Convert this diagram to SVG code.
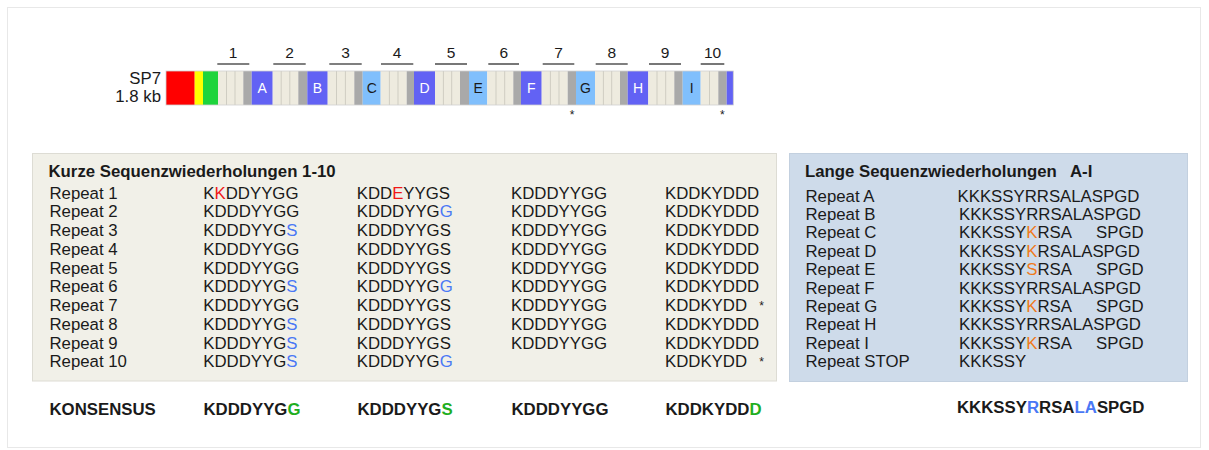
<svg xmlns="http://www.w3.org/2000/svg" width="1209" height="450" viewBox="0 0 1209 450">
<style>
text{font-family:"Liberation Sans",Arial,sans-serif;fill:#1a1a1a}
.t{font-size:16.8px}
.b{font-size:16.8px;font-weight:bold}
.num{font-size:15.5px;text-anchor:middle}
.blk{font-size:14px;text-anchor:middle}
.w{fill:#ffffff}
.cr{fill:#eeebdf}
.gr{fill:#a9a9a9}
.dk{fill:#6262f4}
.lt{fill:#80bffc}
.dv{stroke:#cfcdc2;stroke-width:1}
.ov{stroke:#555;stroke-width:1.6}
.star{font-size:12px;text-anchor:middle}
.red{fill:#f01818}
.blu{fill:#4a78f5}
.org{fill:#f07a1a}
.grn{fill:#1fae1f}
</style>
<rect x="7.5" y="7.5" width="1193" height="440" fill="#ffffff" stroke="#e8e8e8"/>

<g id="gene">
<text class="t" x="161" y="83.5" text-anchor="end">SP7</text>
<text class="t" x="161" y="101.5" text-anchor="end">1.8 kb</text>
<rect x="166" y="71" width="28.7" height="34" fill="#ff0000"/>
<rect x="194.7" y="71" width="8.3" height="34" fill="#ffff00"/>
<rect x="203" y="71" width="15" height="34" fill="#1ed43c"/>
<rect class="cr" x="218" y="71" width="25.3" height="34"/><rect class="gr" x="243.3" y="71" width="8.4" height="34"/><rect class="dk" x="251.7" y="71" width="21" height="34"/>
<rect class="cr" x="272.7" y="71" width="25.6" height="34"/><rect class="gr" x="298.3" y="71" width="9" height="34"/><rect class="dk" x="307.3" y="71" width="20.4" height="34"/>
<rect class="cr" x="327.7" y="71" width="26.6" height="34"/><rect class="gr" x="354.3" y="71" width="8.4" height="34"/><rect class="lt" x="362.7" y="71" width="18" height="34"/>
<rect class="cr" x="380.7" y="71" width="26" height="34"/><rect class="gr" x="406.7" y="71" width="7.3" height="34"/><rect class="dk" x="414" y="71" width="21" height="34"/>
<rect class="cr" x="435" y="71" width="25" height="34"/><rect class="gr" x="460" y="71" width="9" height="34"/><rect class="lt" x="469" y="71" width="18.3" height="34"/>
<rect class="cr" x="487.3" y="71" width="26" height="34"/><rect class="gr" x="513.3" y="71" width="7.7" height="34"/><rect class="dk" x="521" y="71" width="20.7" height="34"/>
<rect class="cr" x="541.7" y="71" width="26" height="34"/><rect class="gr" x="567.7" y="71" width="8.3" height="34"/><rect class="lt" x="576" y="71" width="19" height="34"/>
<rect class="cr" x="595" y="71" width="25" height="34"/><rect class="gr" x="620" y="71" width="7.7" height="34"/><rect class="dk" x="627.7" y="71" width="20.6" height="34"/>
<rect class="cr" x="648.3" y="71" width="26" height="34"/><rect class="gr" x="674.3" y="71" width="8.4" height="34"/><rect class="lt" x="682.7" y="71" width="18" height="34"/>
<rect class="cr" x="700.7" y="71" width="17.6" height="34"/><rect class="gr" x="718.3" y="71" width="8.4" height="34"/><rect class="dk" x="726.7" y="71" width="6.6" height="34"/>
<g class="dv">
<line x1="226.5" y1="71" x2="226.5" y2="105"/><line x1="235" y1="71" x2="235" y2="105"/>
<line x1="281.2" y1="71" x2="281.2" y2="105"/><line x1="289.8" y1="71" x2="289.8" y2="105"/>
<line x1="336.5" y1="71" x2="336.5" y2="105"/><line x1="345.4" y1="71" x2="345.4" y2="105"/>
<line x1="389.4" y1="71" x2="389.4" y2="105"/><line x1="398" y1="71" x2="398" y2="105"/>
<line x1="443.4" y1="71" x2="443.4" y2="105"/><line x1="451.7" y1="71" x2="451.7" y2="105"/>
<line x1="496" y1="71" x2="496" y2="105"/><line x1="504.7" y1="71" x2="504.7" y2="105"/>
<line x1="550.4" y1="71" x2="550.4" y2="105"/><line x1="559" y1="71" x2="559" y2="105"/>
<line x1="603.4" y1="71" x2="603.4" y2="105"/><line x1="611.7" y1="71" x2="611.7" y2="105"/>
<line x1="657" y1="71" x2="657" y2="105"/><line x1="665.7" y1="71" x2="665.7" y2="105"/>
<line x1="709.5" y1="71" x2="709.5" y2="105"/>
</g>
<rect x="166" y="71" width="567.3" height="34" fill="none" stroke="#cfcfcf" stroke-width="0.8"/>
<text class="blk w" x="262.2" y="93">A</text>
<text class="blk w" x="317.5" y="93">B</text>
<text class="blk" x="371.7" y="93">C</text>
<text class="blk w" x="424.5" y="93">D</text>
<text class="blk" x="478.2" y="93">E</text>
<text class="blk w" x="531.3" y="93">F</text>
<text class="blk" x="585.5" y="93">G</text>
<text class="blk w" x="638" y="93">H</text>
<text class="blk" x="691.7" y="93">I</text>
<g class="ov">
<line x1="217.3" y1="64" x2="249.3" y2="64"/><line x1="273.3" y1="64" x2="305.7" y2="64"/>
<line x1="329.3" y1="64" x2="361.7" y2="64"/><line x1="381" y1="64" x2="413.3" y2="64"/>
<line x1="435" y1="64" x2="467" y2="64"/><line x1="488.3" y1="64" x2="519" y2="64"/>
<line x1="542.7" y1="64" x2="574.3" y2="64"/><line x1="595.7" y1="64" x2="627.7" y2="64"/>
<line x1="649" y1="64" x2="681" y2="64"/><line x1="700.7" y1="64" x2="724.3" y2="64"/>
</g>
<text class="num" x="233" y="58.3">1</text><text class="num" x="289.5" y="58.3">2</text>
<text class="num" x="345.5" y="58.3">3</text><text class="num" x="397" y="58.3">4</text>
<text class="num" x="451" y="58.3">5</text><text class="num" x="503.7" y="58.3">6</text>
<text class="num" x="558.5" y="58.3">7</text><text class="num" x="611.7" y="58.3">8</text>
<text class="num" x="665" y="58.3">9</text><text class="num" x="712.5" y="58.3">10</text>
<text class="star" x="572" y="119">*</text>
<text class="star" x="722.3" y="119">*</text>
</g>

<g id="short-repeats">
<rect x="32.5" y="153.5" width="744" height="227.5" fill="#f1f0e8" stroke="#dddcd4"/>
<text class="b" x="48.5" y="176.7">Kurze Sequenzwiederholungen 1-10</text>
<g class="t">
<text x="49.5" y="198.5">Repeat 1</text>
<text x="49.5" y="217.25">Repeat 2</text>
<text x="49.5" y="236">Repeat 3</text>
<text x="49.5" y="254.75">Repeat 4</text>
<text x="49.5" y="273.5">Repeat 5</text>
<text x="49.5" y="292.25">Repeat 6</text>
<text x="49.5" y="311">Repeat 7</text>
<text x="49.5" y="329.75">Repeat 8</text>
<text x="49.5" y="348.5">Repeat 9</text>
<text x="49.5" y="367.25">Repeat 10</text>

<text x="203.3" y="198.5">K<tspan class="red">K</tspan>DDYYGG</text>
<text x="203.3" y="217.25">KDDDYYGG</text>
<text x="203.3" y="236">KDDDYYG<tspan class="blu">S</tspan></text>
<text x="203.3" y="254.75">KDDDYYGG</text>
<text x="203.3" y="273.5">KDDDYYGG</text>
<text x="203.3" y="292.25">KDDDYYG<tspan class="blu">S</tspan></text>
<text x="203.3" y="311">KDDDYYGG</text>
<text x="203.3" y="329.75">KDDDYYG<tspan class="blu">S</tspan></text>
<text x="203.3" y="348.5">KDDDYYG<tspan class="blu">S</tspan></text>
<text x="203.3" y="367.25">KDDDYYG<tspan class="blu">S</tspan></text>

<text x="356.7" y="198.5">KDD<tspan class="red">E</tspan>YYGS</text>
<text x="356.7" y="217.25">KDDDYYG<tspan class="blu">G</tspan></text>
<text x="356.7" y="236">KDDDYYGS</text>
<text x="356.7" y="254.75">KDDDYYGS</text>
<text x="356.7" y="273.5">KDDDYYGS</text>
<text x="356.7" y="292.25">KDDDYYG<tspan class="blu">G</tspan></text>
<text x="356.7" y="311">KDDDYYGS</text>
<text x="356.7" y="329.75">KDDDYYGS</text>
<text x="356.7" y="348.5">KDDDYYGS</text>
<text x="356.7" y="367.25">KDDDYYG<tspan class="blu">G</tspan></text>

<text x="511" y="198.5">KDDDYYGG</text>
<text x="511" y="217.25">KDDDYYGG</text>
<text x="511" y="236">KDDDYYGG</text>
<text x="511" y="254.75">KDDDYYGG</text>
<text x="511" y="273.5">KDDDYYGG</text>
<text x="511" y="292.25">KDDDYYGG</text>
<text x="511" y="311">KDDDYYGG</text>
<text x="511" y="329.75">KDDDYYGG</text>
<text x="511" y="348.5">KDDDYYGG</text>

<text x="665" y="198.5">KDDKYDDD</text>
<text x="665" y="217.25">KDDKYDDD</text>
<text x="665" y="236">KDDKYDDD</text>
<text x="665" y="254.75">KDDKYDDD</text>
<text x="665" y="273.5">KDDKYDDD</text>
<text x="665" y="292.25">KDDKYDDD</text>
<text x="665" y="311">KDDKYDD</text>
<text x="665" y="329.75">KDDKYDDD</text>
<text x="665" y="348.5">KDDKYDDD</text>
<text x="665" y="367.25">KDDKYDD</text>
</g>
<text class="star" x="761.7" y="310">*</text>
<text class="star" x="761.7" y="366.25">*</text>
</g>

<g id="long-repeats">
<rect x="789.5" y="153.5" width="398" height="228" fill="#cedbea" stroke="#c3d0df"/>
<text class="b" x="805" y="176.7">Lange Sequenzwiederholungen<tspan x="1070">A-I</tspan></text>
<g class="t">
<text x="805.5" y="201.5">Repeat A</text>
<text x="805.5" y="219.9">Repeat B</text>
<text x="805.5" y="238.3">Repeat C</text>
<text x="805.5" y="256.7">Repeat D</text>
<text x="805.5" y="275.1">Repeat E</text>
<text x="805.5" y="293.5">Repeat F</text>
<text x="805.5" y="311.9">Repeat G</text>
<text x="805.5" y="330.3">Repeat H</text>
<text x="805.5" y="348.7">Repeat I</text>
<text x="805.5" y="367.1">Repeat STOP</text>

<text x="957.5" y="201.5">KKKSSYRRSALASPGD</text>
<text x="959" y="219.9">KKKSSYRRSALASPGD</text>
<text x="959" y="238.3">KKKSSY<tspan class="org">K</tspan>RSA</text><text x="1096" y="238.3">SPGD</text>
<text x="959" y="256.7">KKKSSY<tspan class="org">K</tspan>RSALASPGD</text>
<text x="959" y="275.1">KKKSSY<tspan class="org">S</tspan>RSA</text><text x="1096" y="275.1">SPGD</text>
<text x="959" y="293.5">KKKSSYRRSALASPGD</text>
<text x="959" y="311.9">KKKSSY<tspan class="org">K</tspan>RSA</text><text x="1096" y="311.9">SPGD</text>
<text x="959" y="330.3">KKKSSYRRSALASPGD</text>
<text x="959" y="348.7">KKKSSY<tspan class="org">K</tspan>RSA</text><text x="1096" y="348.7">SPGD</text>
<text x="959" y="367.1">KKKSSY</text>
</g>
</g>

<g id="consensus" class="b">
<text x="49.5" y="414.5">KONSENSUS</text>
<text x="203.5" y="414.5">KDDDYYG<tspan class="grn">G</tspan></text>
<text x="357.5" y="414.5">KDDDYYG<tspan class="grn">S</tspan></text>
<text x="511.5" y="414.5">KDDDYYGG</text>
<text x="665.5" y="414.5">KDDKYDD<tspan class="grn">D</tspan></text>
<text x="957" y="412.5">KKKSSY<tspan class="blu">R</tspan>RSA<tspan class="blu">LA</tspan>SPGD</text>
</g>
</svg>
